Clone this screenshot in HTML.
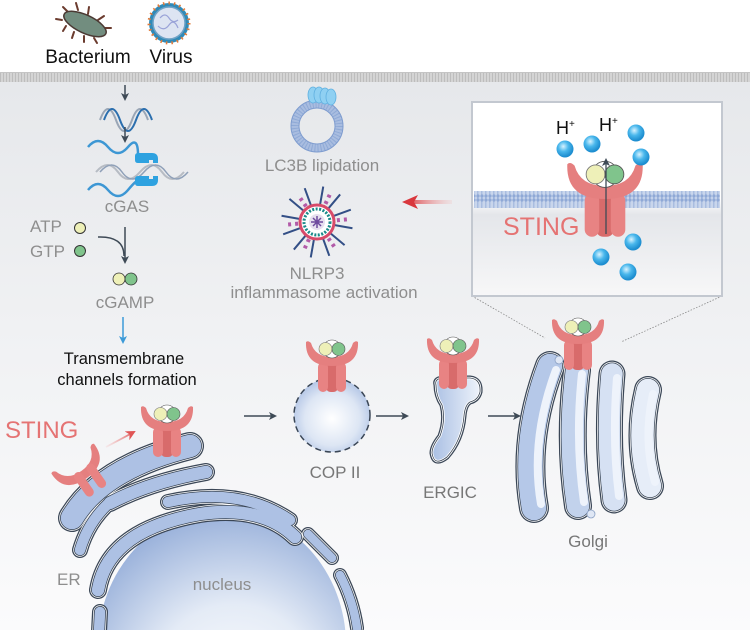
<!DOCTYPE html>
<html><head><meta charset="utf-8"><style>
html,body{margin:0;padding:0;background:#fff;width:750px;height:630px;overflow:hidden}
svg{display:block}
text{font-family:"Liberation Sans",sans-serif}
</style></head><body>
<svg width="750" height="630" viewBox="0 0 750 630" xmlns="http://www.w3.org/2000/svg">
<defs>
<clipPath id="frame"><rect width="750" height="630"/></clipPath>
<linearGradient id="bg" x1="0" y1="0" x2="0" y2="1"><stop offset="0" stop-color="#e6e8eb"/><stop offset="0.5" stop-color="#f1f2f4"/><stop offset="1" stop-color="#fbfbfc"/></linearGradient>
<pattern id="stripe" width="3" height="10" patternUnits="userSpaceOnUse"><rect width="3" height="10" fill="#d4d4d4"/><rect width="1" height="10" fill="#bdbdbd"/></pattern>
<pattern id="mem" width="4" height="18" patternUnits="userSpaceOnUse"><rect width="4" height="18" fill="#c9d6ec"/><rect x="1" width="1.5" height="18" fill="#a9bde0"/><circle cx="2" cy="2" r="1.6" fill="#8fa9d6"/><circle cx="2" cy="16" r="1.6" fill="#8fa9d6"/></pattern>
<linearGradient id="inset" x1="0" y1="0" x2="0" y2="1"><stop offset="0" stop-color="#fff"/><stop offset="0.5" stop-color="#fff"/><stop offset="0.58" stop-color="#e4e6ea"/><stop offset="1" stop-color="#f7f7f8"/></linearGradient>
<radialGradient id="nuc" cx="0.55" cy="0.7" r="0.7"><stop offset="0" stop-color="#ffffff"/><stop offset="0.5" stop-color="#e4ebf6"/><stop offset="1" stop-color="#98b0da"/></radialGradient>
<radialGradient id="cop" cx="0.5" cy="0.55" r="0.6"><stop offset="0" stop-color="#ffffff"/><stop offset="0.6" stop-color="#dde6f4"/><stop offset="1" stop-color="#a8bde2"/></radialGradient>
<radialGradient id="ball" cx="0.4" cy="0.35" r="0.6"><stop offset="0" stop-color="#d8f3ff"/><stop offset="0.5" stop-color="#49b7ec"/><stop offset="1" stop-color="#1e8ed0"/></radialGradient>
<linearGradient id="cis" x1="0" y1="0" x2="1" y2="0"><stop offset="0" stop-color="#a9bfe3"/><stop offset="1" stop-color="#eef3fb"/></linearGradient>
<marker id="ah" markerWidth="8" markerHeight="8" refX="6" refY="4" orient="auto" markerUnits="userSpaceOnUse"><path d="M0,0 L8,4 L0,8 L2,4Z" fill="#3e4a56"/></marker>
<marker id="ahb" markerWidth="8" markerHeight="8" refX="6" refY="4" orient="auto" markerUnits="userSpaceOnUse"><path d="M0,0 L8,4 L0,8 L2,4Z" fill="#3c9ad8"/></marker>
<marker id="ahr2" markerWidth="10" markerHeight="10" refX="8" refY="5" orient="auto" markerUnits="userSpaceOnUse"><path d="M0,0 L10,5 L0,10 L3,5Z" fill="#e05555"/></marker>
<linearGradient id="redfade" gradientUnits="userSpaceOnUse" x1="452" y1="0" x2="405" y2="0"><stop offset="0" stop-color="#f3b5b5" stop-opacity="0.2"/><stop offset="1" stop-color="#d9373d"/></linearGradient>
<linearGradient id="redfade2" gradientUnits="userSpaceOnUse" x1="106" y1="447" x2="134" y2="432"><stop offset="0" stop-color="#f3b5b5" stop-opacity="0.2"/><stop offset="1" stop-color="#e05555"/></linearGradient>
<g id="sting">
  <path d="M-6,14 L-6,40 Q-6,46 -1,46 L1,46 Q6,46 6,40 L6,14Z" fill="#d86b6b"/>
  <rect x="-14" y="16" width="10" height="30" rx="5" fill="#e88383"/>
  <rect x="4" y="16" width="10" height="30" rx="5" fill="#e88383"/>
  <path d="M-26,-4 Q-27,20 0,20 Q27,20 26,-4 Q24,-6 21,-3 Q17,11 0,11 Q-17,11 -21,-3 Q-24,-6 -26,-4Z" fill="#e57f7f"/>
  <circle cx="0" cy="3" r="9" fill="#fff" stroke="#555" stroke-width="0.6"/>
  <circle cx="-6.5" cy="3" r="6.5" fill="#eef0b8" stroke="#777" stroke-width="0.6"/>
  <circle cx="6.5" cy="3" r="6.5" fill="#80c48c" stroke="#555" stroke-width="0.6"/>
</g>
</defs>
<g clip-path="url(#frame)">
<rect width="750" height="630" fill="#fff"/>
<rect x="0" y="82" width="750" height="548" fill="url(#bg)"/>
<rect x="0" y="72" width="750" height="10" fill="url(#stripe)"/>
<rect x="0" y="72" width="750" height="1" fill="#c4c4c4"/>

<!-- bacterium -->
<g stroke="#6b3b2e" stroke-width="2" fill="none" stroke-linecap="round">
<path d="M68,12 l-5,-5 M78,10 l-2,-7 M88,14 l1,-7 M98,20 l6,-4 M104,28 l7,0 M62,20 l-6,-1 M66,26 l-3,5 M74,32 l-2,6 M84,36 l0,6 M94,38 l3,5"/>
</g>
<ellipse cx="85" cy="24" rx="23" ry="9" transform="rotate(25 85 24)" fill="#728d7f" stroke="#4b3a34" stroke-width="1.5"/>
<!-- virus -->
<circle cx="169" cy="23" r="20" fill="#2f8ab8"/>
<circle cx="169" cy="23" r="20" fill="none" stroke="#e07a3a" stroke-width="3" stroke-dasharray="1.5 4"/>
<circle cx="169" cy="23" r="16" fill="#dde4f2" stroke="#6fa2c6" stroke-width="1.5"/>
<path d="M160,18 q5,-6 9,0 t9,2 M158,26 q6,6 11,-1 t9,3" stroke="#9aa3d8" stroke-width="1.2" fill="none"/>
<text x="88" y="63" font-size="19" text-anchor="middle" fill="#111">Bacterium</text>
<text x="171" y="63" font-size="19" text-anchor="middle" fill="#111">Virus</text>

<!-- left pathway -->
<line x1="125" y1="85" x2="125" y2="99" stroke="#3e4a56" stroke-width="1.5" marker-end="url(#ah)"/>
<path d="M100,120 q8,-22 16,0 t16,0 t16,0" stroke="#9aa6b6" stroke-width="2" fill="none"/>
<path d="M104,120 q8,-22 16,0 t16,0 t16,0" stroke="#2c6fae" stroke-width="2" fill="none"/>
<line x1="125" y1="127" x2="125" y2="141" stroke="#3e4a56" stroke-width="1.5" marker-end="url(#ah)"/>
<path d="M96,172 q12,-14 22,0 t22,0 t22,0 t22,0" stroke="#b7bcc4" stroke-width="2" fill="none"/>
<path d="M100,172 q12,-14 22,0 t22,0 t22,0 t22,0" stroke="#8fa0b8" stroke-width="1.5" fill="none"/>
<path d="M88,147 q10,-12 20,0 t20,0 t10,8" stroke="#3d97d4" stroke-width="2.5" fill="none"/>
<path d="M88,190 q10,-12 20,0 t20,0 t10,-8" stroke="#3d97d4" stroke-width="2.5" fill="none"/>
<path d="M138,153 h14 q6,0 6,6 v4 h-5 v-3 h-4 v3 h-11 q-3,0 -3,-3 v-4 q0,-3 3,-3z" fill="#2ea2e0"/>
<path d="M138,176 h11 v3 h4 v-3 h5 v4 q0,6 -6,6 h-14 q-3,0 -3,-3 v-4 q0,-3 3,-3z" fill="#2ea2e0"/>
<text x="127" y="212" font-size="17" text-anchor="middle" fill="#8e8e8e">cGAS</text>
<text x="30" y="232" font-size="17" fill="#8e8e8e">ATP</text>
<text x="30" y="257" font-size="17" fill="#8e8e8e">GTP</text>
<circle cx="80" cy="228" r="5.5" fill="#eef0b8" stroke="#333" stroke-width="1"/>
<circle cx="80" cy="251" r="5.5" fill="#80c48c" stroke="#333" stroke-width="1"/>
<path d="M98,237 Q124,236 124,256" stroke="#3e4a56" stroke-width="1.5" fill="none"/>
<line x1="125" y1="227" x2="125" y2="262" stroke="#3e4a56" stroke-width="1.5" marker-end="url(#ah)"/>
<circle cx="119" cy="279" r="6" fill="#eef0b8" stroke="#333" stroke-width="0.8"/>
<circle cx="131" cy="279" r="6" fill="#80c48c" stroke="#333" stroke-width="0.8"/>
<text x="125" y="308" font-size="17" text-anchor="middle" fill="#8e8e8e">cGAMP</text>
<line x1="123" y1="317" x2="123" y2="342" stroke="#3c9ad8" stroke-width="1.5" marker-end="url(#ahb)"/>
<text x="124" y="364" font-size="16.5" text-anchor="middle" fill="#111">Transmembrane</text>
<text x="127" y="385" font-size="16.5" text-anchor="middle" fill="#111">channels formation</text>

<!-- LC3B -->
<circle cx="317" cy="126" r="22" fill="none" stroke="#a9bde0" stroke-width="8"/>
<circle cx="317" cy="126" r="22" fill="none" stroke="#7e9ccf" stroke-width="8" stroke-dasharray="1 2" opacity="0.6"/>
<circle cx="317" cy="126" r="26" fill="none" stroke="#7e9ccf" stroke-width="1"/>
<circle cx="317" cy="126" r="18" fill="none" stroke="#7e9ccf" stroke-width="1"/>
<g fill="#8fd0f2" stroke="#5fb0e0" stroke-width="0.8">
<ellipse cx="313" cy="95" rx="5" ry="8"/><ellipse cx="319" cy="95" rx="5" ry="8"/><ellipse cx="325" cy="96" rx="5" ry="8"/><ellipse cx="331" cy="97" rx="5" ry="8"/></g>
<text x="322" y="171" font-size="17" text-anchor="middle" fill="#8e8e8e">LC3B lipidation</text>

<!-- NLRP3 -->
<g transform="translate(317,222)">
<g stroke="#334f86" stroke-width="2">
<line x1="0" y1="-36" x2="0" y2="36" transform="rotate(10)"/><line x1="0" y1="-36" x2="0" y2="36" transform="rotate(40)"/><line x1="0" y1="-36" x2="0" y2="36" transform="rotate(70)"/><line x1="0" y1="-36" x2="0" y2="36" transform="rotate(100)"/><line x1="0" y1="-36" x2="0" y2="36" transform="rotate(130)"/><line x1="0" y1="-36" x2="0" y2="36" transform="rotate(160)"/>
</g>
<g stroke="#b25aa8" stroke-width="4" stroke-dasharray="3 4">
<line x1="0" y1="-30" x2="0" y2="30" transform="rotate(25)"/><line x1="0" y1="-30" x2="0" y2="30" transform="rotate(85)"/><line x1="0" y1="-30" x2="0" y2="30" transform="rotate(145)"/>
</g>
<circle r="17" fill="#fff" stroke="#d84a6a" stroke-width="3"/>
<circle r="13" fill="#fff" stroke="#1a8a8a" stroke-width="3" stroke-dasharray="2 1.5"/>
<circle r="8" fill="#e6e0ef"/>
<path d="M-6,0 H6 M0,-6 V6 M-4,-4 L4,4 M4,-4 L-4,4" stroke="#6e4a9e" stroke-width="1.5"/>
</g>
<text x="317" y="279" font-size="17" text-anchor="middle" fill="#8e8e8e">NLRP3</text>
<text x="324" y="298" font-size="17" text-anchor="middle" fill="#8e8e8e">inflammasome activation</text>

<!-- red arrow -->
<rect x="412" y="200" width="40" height="4" fill="url(#redfade)"/>
<path d="M402,202 L418,195 L414,202 L418,209Z" fill="#d9373d"/>

<!-- inset -->
<line x1="472" y1="296" x2="545" y2="338" stroke="#888" stroke-width="0.8" stroke-dasharray="1.5 1.5"/>
<line x1="722" y1="296" x2="621" y2="342" stroke="#888" stroke-width="0.8" stroke-dasharray="1.5 1.5"/>
<rect x="472" y="102" width="250" height="194" fill="url(#inset)" stroke="#c3c8d0" stroke-width="2"/>
<rect x="474" y="191" width="246" height="17" fill="url(#mem)"/>
<g transform="translate(605,170)"><use href="#sting" transform="scale(1.45)"/></g>
<line x1="606" y1="234" x2="606" y2="160" stroke="#3e4a56" stroke-width="1.3" marker-end="url(#ah)"/>
<text x="556" y="134" font-size="18" fill="#111">H<tspan font-size="10" dy="-7">+</tspan></text>
<text x="599" y="131" font-size="18" fill="#111">H<tspan font-size="10" dy="-7">+</tspan></text>
<g fill="url(#ball)"><circle cx="565" cy="149" r="8.5"/><circle cx="592" cy="144" r="8.5"/><circle cx="636" cy="133" r="8.5"/><circle cx="641" cy="157" r="8.5"/><circle cx="633" cy="242" r="8.5"/><circle cx="601" cy="257" r="8.5"/><circle cx="628" cy="272" r="8.5"/></g>
<text x="503" y="235" font-size="25" fill="#e57373">STING</text>

<!-- nucleus & ER -->
<ellipse cx="222" cy="645" rx="124" ry="135" fill="url(#nuc)"/>
<g fill="none" stroke-linecap="round" stroke-linejoin="round">
<g stroke="#3a4656">
<path d="M72,518 Q102,468 190,446" stroke-width="28"/><path d="M110,503 Q150,482 206,472" stroke-width="18"/><path d="M168,502 Q240,486 290,520" stroke-width="16"/>
<path d="M80,550 Q88,522 110,502" stroke-width="16"/><path d="M98,590 Q108,530 200,514 Q262,505 295,537" stroke-width="18"/>
<path d="M308,534 L332,558" stroke-width="14"/><path d="M340,575 Q353,600 357,628" stroke-width="14"/><path d="M99,632 L100,612" stroke-width="16"/></g>
<g stroke="#ffffff">
<path d="M72,518 Q102,468 190,446" stroke-width="25.5"/><path d="M110,503 Q150,482 206,472" stroke-width="15.5"/><path d="M168,502 Q240,486 290,520" stroke-width="13.5"/>
<path d="M80,550 Q88,522 110,502" stroke-width="13.5"/><path d="M98,590 Q108,530 200,514 Q262,505 295,537" stroke-width="15.5"/>
<path d="M308,534 L332,558" stroke-width="11.5"/><path d="M340,575 Q353,600 357,628" stroke-width="11.5"/><path d="M99,632 L100,612" stroke-width="13.5"/></g>
<g stroke="#3a4656">
<path d="M72,518 Q102,468 190,446" stroke-width="24"/><path d="M110,503 Q150,482 206,472" stroke-width="14"/><path d="M168,502 Q240,486 290,520" stroke-width="12"/>
<path d="M80,550 Q88,522 110,502" stroke-width="12"/><path d="M98,590 Q108,530 200,514 Q262,505 295,537" stroke-width="14"/>
<path d="M308,534 L332,558" stroke-width="10"/><path d="M340,575 Q353,600 357,628" stroke-width="10"/><path d="M99,632 L100,612" stroke-width="12"/></g>
<g stroke="#adc1e4">
<path d="M72,518 Q102,468 190,446" stroke-width="22.5"/><path d="M110,503 Q150,482 206,472" stroke-width="12.5"/><path d="M168,502 Q240,486 290,520" stroke-width="10.5"/>
<path d="M80,550 Q88,522 110,502" stroke-width="10.5"/><path d="M98,590 Q108,530 200,514 Q262,505 295,537" stroke-width="12.5"/>
<path d="M308,534 L332,558" stroke-width="8.5"/><path d="M340,575 Q353,600 357,628" stroke-width="8.5"/><path d="M99,632 L100,612" stroke-width="10.5"/></g>
</g>
<g transform="translate(167,411)"><use href="#sting"/></g>
<g transform="translate(75,462) rotate(-35)"><path d="M-26,-4 Q-27,20 0,20 Q27,20 26,-4 Q24,-6 21,-3 Q17,11 0,11 Q-17,11 -21,-3 Q-24,-6 -26,-4Z" fill="#e57f7f"/></g>
<g transform="translate(90,480) rotate(-35)"><rect x="-12" y="-14" width="9" height="28" rx="4.5" fill="#e88383"/><rect x="3" y="-14" width="9" height="28" rx="4.5" fill="#e88383"/></g>
<text x="5" y="438" font-size="24" fill="#e57373">STING</text>
<line x1="106" y1="447" x2="134" y2="432" stroke="url(#redfade2)" stroke-width="1.8" marker-end="url(#ahr2)"/>
<text x="57" y="585" font-size="17" fill="#8e8e8e">ER</text>
<text x="222" y="590" font-size="17" text-anchor="middle" fill="#8e8e8e">nucleus</text>

<!-- COP II -->
<ellipse cx="332" cy="415" rx="38" ry="37" fill="url(#cop)" stroke="#3a4656" stroke-width="1.5" stroke-dasharray="6 4"/>
<g transform="translate(332,346)"><use href="#sting"/></g>
<text x="335" y="478" font-size="17" text-anchor="middle" fill="#777">COP II</text>
<g stroke="#3e4a56" stroke-width="1.5" marker-end="url(#ah)">
<line x1="244" y1="416" x2="275" y2="416"/><line x1="376" y1="416" x2="407" y2="416"/><line x1="488" y1="416" x2="519" y2="416"/></g>

<!-- ERGIC -->
<path d="M436,385 Q434,378 445,378 L470,378 Q481,379 480,392 Q478,400 470,402 Q465,405 464,416 Q462,440 447,457 Q434,467 432,453 Q432,446 440,436 Q446,420 442,405 Q436,396 436,385Z" fill="none" stroke="#3a4656" stroke-width="5"/>
<path d="M436,385 Q434,378 445,378 L470,378 Q481,379 480,392 Q478,400 470,402 Q465,405 464,416 Q462,440 447,457 Q434,467 432,453 Q432,446 440,436 Q446,420 442,405 Q436,396 436,385Z" fill="url(#cis)" stroke="#fff" stroke-width="2.5"/>
<path d="M436,385 Q434,378 445,378 L470,378 Q481,379 480,392 Q478,400 470,402 Q465,405 464,416 Q462,440 447,457 Q434,467 432,453 Q432,446 440,436 Q446,420 442,405 Q436,396 436,385Z" fill="none" stroke="#3a4656" stroke-width="0.8"/>
<g transform="translate(453,343)"><use href="#sting"/></g>
<text x="450" y="498" font-size="17" text-anchor="middle" fill="#777">ERGIC</text>

<!-- Golgi -->
<g fill="none" stroke-linecap="round">
<g stroke="#3a4656"><path d="M550,366 Q522,440 534,508" stroke-width="30"/><path d="M577,370 Q568,440 578,506" stroke-width="28"/><path d="M612,374 Q606,440 614,500" stroke-width="27"/><path d="M648,390 Q636,440 650,486" stroke-width="28"/></g>
<g stroke="#fff"><path d="M550,366 Q522,440 534,508" stroke-width="27.5"/><path d="M577,370 Q568,440 578,506" stroke-width="25.5"/><path d="M612,374 Q606,440 614,500" stroke-width="24.5"/><path d="M648,390 Q636,440 650,486" stroke-width="25.5"/></g>
<g stroke="#3a4656"><path d="M550,366 Q522,440 534,508" stroke-width="26"/><path d="M577,370 Q568,440 578,506" stroke-width="24"/><path d="M612,374 Q606,440 614,500" stroke-width="23"/><path d="M648,390 Q636,440 650,486" stroke-width="24"/></g>
<g><path d="M550,366 Q522,440 534,508" stroke="#b5c8e8" stroke-width="24.5"/><path d="M577,370 Q568,440 578,506" stroke="#c2d2ec" stroke-width="22.5"/><path d="M612,374 Q606,440 614,500" stroke="#d6e1f3" stroke-width="21.5"/><path d="M648,390 Q636,440 650,486" stroke="#e6edf8" stroke-width="22.5"/></g>
<g stroke="#eef3fb" stroke-width="8"><path d="M556,370 Q530,440 541,504"/><path d="M582,374 Q575,440 584,502"/><path d="M617,378 Q612,440 619,496"/><path d="M653,394 Q643,440 655,482"/></g>
</g>
<circle cx="559" cy="360" r="4" fill="#dfe7f5" stroke="#8aa0c4" stroke-width="0.8"/>
<circle cx="591" cy="514" r="4" fill="#dfe7f5" stroke="#8aa0c4" stroke-width="0.8"/>
<g transform="translate(578,324)"><use href="#sting"/></g>
<text x="588" y="547" font-size="17" text-anchor="middle" fill="#777">Golgi</text>
</g>
</svg>
</body></html>
